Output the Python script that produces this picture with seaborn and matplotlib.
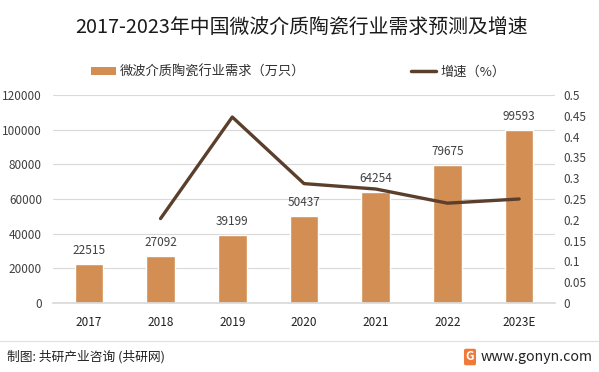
import matplotlib
matplotlib.use("Agg")
import matplotlib.pyplot as plt
import seaborn as sns
import pandas as pd
from matplotlib.patches import Patch
from matplotlib.lines import Line2D

years = ["2017", "2018", "2019", "2020", "2021", "2022", "2023E"]
demand = [22515, 27092, 39199, 50437, 64254, 79675, 99593]
growth_years = ["2018", "2019", "2020", "2021", "2022", "2023E"]
growth = [0.203, 0.447, 0.287, 0.274, 0.240, 0.250]
left_ticks = [0, 20000, 40000, 60000, 80000, 100000, 120000]
right_ticks = [0, 0.05, 0.1, 0.15, 0.2, 0.25, 0.3, 0.35, 0.4, 0.45, 0.5]
right_labels = ["0", "0.05", "0.1", "0.15", "0.2", "0.25", "0.3", "0.35", "0.4", "0.45", "0.5"]

sns.set_theme(style="white")
plt.rcParams['font.family'] = ['Noto Sans CJK SC', 'DejaVu Sans']

BAR = "#D38F53"
LINE = "#5B3F2C"
TXT = "#404040"

fig = plt.figure(figsize=(5.99, 3.72), dpi=100)
ax = fig.add_axes([53/599, 1-303/372, (555-53)/599, (303-95)/372])

df = pd.DataFrame({"year": years, "demand": demand})
sns.barplot(data=df, x="year", y="demand", color=BAR, width=0.4, ax=ax, saturation=1)
ax.set_ylim(0, 120000)
ax.set_yticks(left_ticks)
ax.set_yticklabels([str(t) for t in left_ticks], fontsize=8.5, color=TXT)
ax.grid(axis="y", color="#D9D9D9", linewidth=0.8)
ax.set_axisbelow(True)
for s in ["top", "left", "right"]:
    ax.spines[s].set_visible(False)
ax.spines["bottom"].set_color("#D9D9D9")
ax.set_xlabel("")
ax.set_ylabel("")
ax.tick_params(axis="x", length=0, labelsize=8.5, colors="#202020", pad=9)
ax.tick_params(axis="y", length=0, pad=8)
for i, v in enumerate(demand):
    ax.text(i, v + 4000, str(v), ha="center", va="bottom", fontsize=8.5, color=TXT)

ax2 = ax.twinx()
gdf = pd.DataFrame({"year": [years.index(y) for y in growth_years], "growth": growth})
sns.lineplot(data=gdf, x="year", y="growth", color=LINE, linewidth=2.4, ax=ax2)
ax2.set_ylim(0, 0.5)
ax2.set_yticks(right_ticks)
ax2.set_yticklabels(right_labels, fontsize=8.5, color=TXT)
ax2.tick_params(axis="y", length=0, pad=6)
for s in ["top", "left", "right", "bottom"]:
    ax2.spines[s].set_visible(False)
ax2.set_ylabel("")
ax2.set_xlabel("")
ax2.grid(False)
ax.set_xlim(-0.5, 6.5)

fig.text(302/599, 1-27/372, "2017-2023年中国微波介质陶瓷行业需求预测及增速", ha="center", va="center",
         fontsize=14.3, color="#1a1a1a")

handles = [Patch(facecolor=BAR, edgecolor="none"), Line2D([0], [0], color=LINE, linewidth=2.5)]
fig.legend(handles, ["微波介质陶瓷行业需求（万只）", "增速（%）"], loc="center",
           bbox_to_anchor=(298/599, 1-72/372), ncol=2, frameon=False, fontsize=9.5,
           handlelength=1.9, handleheight=0.6, handletextpad=0.3, columnspacing=8, labelcolor="#303030")

fig.add_artist(Line2D([0, 1], [1-341/372, 1-341/372], color="#E0E0E0", linewidth=0.8))
fig.text(7/599, 1-357/372, "制图: 共研产业咨询 (共研网)", ha="left", va="center", fontsize=9.2, color="#222222")
fig.text(593/599, 1-357/372, "www.gonyn.com", ha="right", va="center", fontsize=10.2, color="#222222")
fig.text(470/599, 1-357/372, "G", ha="center", va="center", fontsize=8.5, color="white", weight="bold",
         bbox=dict(boxstyle="round,pad=0.15", facecolor="#F07A3A", edgecolor="none"))

fig.savefig("out.png", dpi=100)
